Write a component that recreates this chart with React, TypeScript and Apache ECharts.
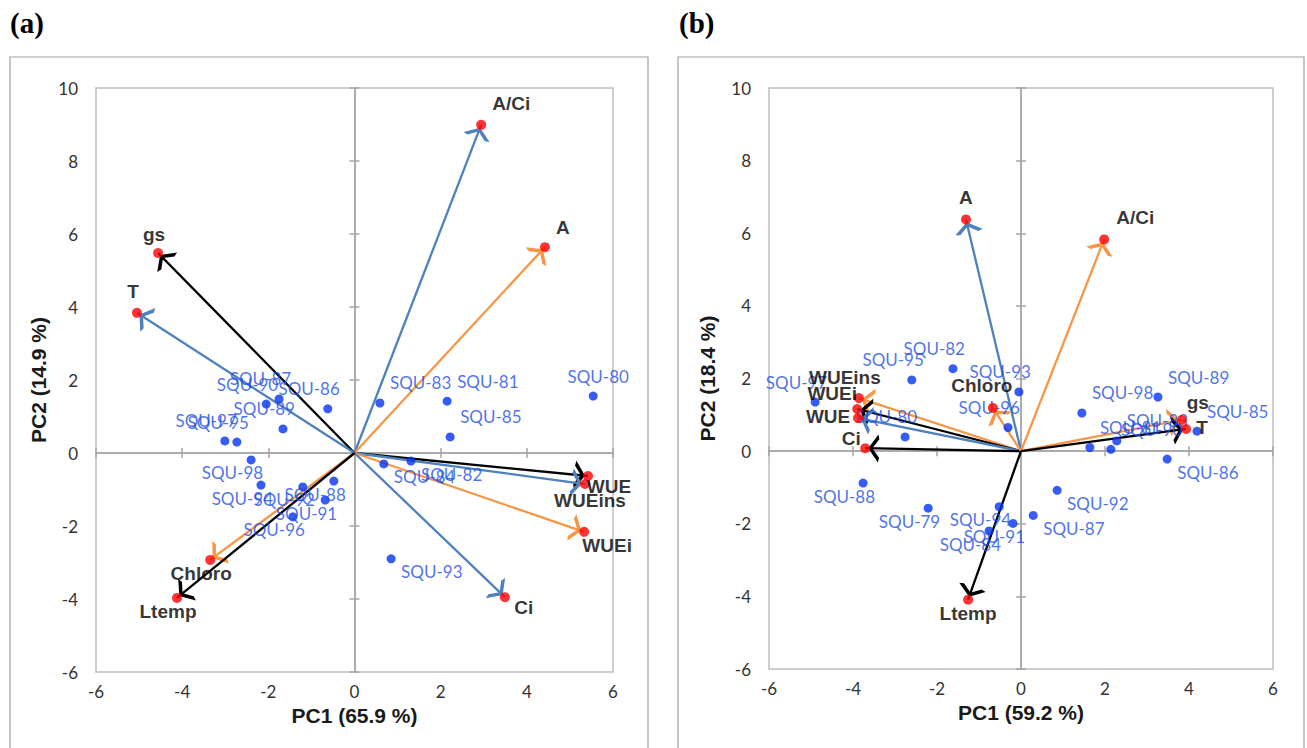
import React, { useEffect, useRef } from 'react';
import * as echarts from 'echarts';

// ---------- DATA ----------
// Panel (a)
const sampleNamesA = ['SQU-80', 'SQU-81', 'SQU-83', 'SQU-85', 'SQU-82', 'SQU-84', 'SQU-93', 'SQU-87', 'SQU-90', 'SQU-86', 'SQU-89', 'SQU-97', 'SQU-95', 'SQU-98', 'SQU-94', 'SQU-92', 'SQU-88', 'SQU-91', 'SQU-96'];
const samplePC1A = [5.54, 2.15, 0.59, 2.22, 1.31, 0.68, 0.85, -1.75, -2.05, -0.62, -1.66, -3.01, -2.73, -2.4, -2.17, -1.2, -0.48, -0.68, -1.43];
const samplePC2A = [1.56, 1.42, 1.37, 0.44, -0.22, -0.3, -2.9, 1.48, 1.34, 1.21, 0.66, 0.33, 0.3, -0.19, -0.88, -0.93, -0.77, -1.29, -1.75];
const varNamesA = ['A/Ci', 'A', 'gs', 'T', 'WUE', 'WUEins', 'WUEi', 'Ci', 'Chloro', 'Ltemp'];
const varPC1A = [2.94, 4.42, -4.56, -5.05, 5.42, 5.35, 5.33, 3.49, -3.35, -4.12];
const varPC2A = [8.99, 5.64, 5.48, 3.84, -0.63, -0.85, -2.16, -3.95, -2.93, -3.97];
const axisTitlesA = { x: 'PC1 (65.9 %)', y: 'PC2 (14.9 %)' };

// Panel (b)
const sampleNamesB = ['SQU-97', 'SQU-95', 'SQU-82', 'SQU-93', 'SQU-80', 'SQU-96', 'SQU-98', 'SQU-89', 'SQU-85', 'SQU-81', 'SQU-90', 'SQU-83', 'SQU-86', 'SQU-88', 'SQU-79', 'SQU-94', 'SQU-91', 'SQU-84', 'SQU-87', 'SQU-92'];
const samplePC1B = [-4.9, -2.6, -1.62, -0.05, -2.76, -0.31, 1.45, 3.26, 4.19, 1.64, 2.14, 2.28, 3.48, -3.76, -2.21, -0.52, -0.19, -0.76, 0.29, 0.86];
const samplePC2B = [1.35, 1.96, 2.27, 1.63, 0.39, 0.65, 1.05, 1.49, 0.55, 0.1, 0.05, 0.28, -0.22, -0.88, -1.57, -1.53, -1.99, -2.2, -1.77, -1.08];
const varNamesB = ['A', 'A/Ci', 'WUEins', 'WUEi', 'WUE', 'Ci', 'Chloro', 'Ltemp', 'gs', 'T'];
const varPC1B = [-1.31, 1.98, -3.86, -3.9, -3.88, -3.71, -0.67, -1.26, 3.83, 3.93];
const varPC2B = [6.38, 5.83, 1.46, 1.16, 0.91, 0.08, 1.19, -4.09, 0.86, 0.61];
const axisTitlesB = { x: 'PC1 (59.2 %)', y: 'PC2 (18.4 %)' };

const panelTitles = ['(a)', '(b)'];
const AXIS_MIN = -6;
const X_MAX = 6;
const Y_MAX = 10;
const TICK_STEP = 2;

// ---------- STYLE / LAYOUT ----------
const COLORS: Record<string, string> = { blue: '#4f81bd', orange: '#f79646', black: '#000000' };
const arrowColorA: Record<string, string> = {
  'A/Ci': 'blue', A: 'orange', gs: 'black', T: 'blue', WUE: 'black', WUEins: 'blue', WUEi: 'orange', Ci: 'blue', Chloro: 'orange', Ltemp: 'black',
};
const arrowColorB: Record<string, string> = {
  A: 'blue', 'A/Ci': 'orange', WUEins: 'orange', WUEi: 'black', WUE: 'blue', Ci: 'black', Chloro: 'orange', Ltemp: 'black', gs: 'orange', T: 'black',
};
const varLabelOffsetA: Record<string, number[]> = {
  'A/Ci': [30, -21], A: [18, -20], gs: [-4, -18], T: [-4, -21], WUE: [21, 11], WUEins: [5, 16], WUEi: [23, 14], Ci: [19, 10], Chloro: [-9, 14], Ltemp: [-9, 14],
};
const varLabelOffsetB: Record<string, number[]> = {
  A: [0, -22], 'A/Ci': [31, -22], WUEins: [-14, -21], WUEi: [-25, -16], WUE: [-30, -2], Ci: [-14, -10], Chloro: [-11, -22], Ltemp: [0, 14], gs: [16, -17], T: [16, -1],
};
const sampleLabelOverrideA: Record<string, any> = { 'SQU-80': { align: 'center', offset: [5, -20] } };
const sampleLabelOverrideB: Record<string, any> = {};

const grids = [
  { left: 96, top: 88, width: 517, height: 584, yNameGap: 47, frame: { x: 10, y: 57, w: 638 }, title: { x: 10 } },
  { left: 769, top: 88, width: 504, height: 581, yNameGap: 51, frame: { x: 678, y: 57, w: 626 }, title: { x: 679 } },
];

// open chevron arrow head; a tiny invisible sub-path extends the bounding box so the tip sits just before the end point
const ARROW_HEAD = 'path://M5,-17 L5.05,-17 L5,-16.95 Z M5,0 L10,10 L8.3,11 L5,4.2 L1.7,11 L0,10 Z';
const ARROW_SIZE = [10, 28];
const LABEL_FONT = 'Lato';
const BOLD_FONT = '"Liberation Sans", Arial, sans-serif';

function buildPanel(
  gi: number,
  sNames: string[], sX: number[], sY: number[],
  vNames: string[], vX: number[], vY: number[],
  arrowColor: Record<string, string>, vOffset: Record<string, number[]>,
  sOverride: Record<string, any>, titles: { x: string; y: string }
) {
  const base = gi * 3;
  const nameStyle = { fontFamily: BOLD_FONT, fontWeight: 'bold', fontSize: 21, color: '#1a1a1a' };
  const xAxes = [
    {
      gridIndex: gi, type: 'value', min: AXIS_MIN, max: X_MAX, interval: TICK_STEP, position: 'bottom',
      axisLine: { show: false, onZero: false }, axisTick: { show: false }, splitLine: { show: false },
      axisLabel: { fontFamily: LABEL_FONT, fontSize: 17, color: '#333', margin: 11 },
      name: titles.x, nameLocation: 'middle', nameGap: 30, nameTextStyle: nameStyle,
    },
    ...[true, false].map((inside) => ({
      gridIndex: gi, type: 'value', min: AXIS_MIN, max: X_MAX, interval: TICK_STEP,
      axisLine: { show: true, onZero: true, onZeroAxisIndex: base, lineStyle: { color: '#a6a6a6', width: 1.5 } },
      axisTick: { show: true, inside, length: 5, lineStyle: { color: '#a6a6a6', width: 1.5 } },
      axisLabel: { show: false }, splitLine: { show: false },
    })),
  ];
  const yAxes = [
    {
      gridIndex: gi, type: 'value', min: AXIS_MIN, max: Y_MAX, interval: TICK_STEP, position: 'left',
      axisLine: { show: false, onZero: false }, axisTick: { show: false }, splitLine: { show: false },
      axisLabel: { fontFamily: LABEL_FONT, fontSize: 17, color: '#333', margin: 18 },
      name: titles.y, nameLocation: 'middle', nameGap: grids[gi].yNameGap, nameTextStyle: nameStyle,
    },
    ...[true, false].map((inside) => ({
      gridIndex: gi, type: 'value', min: AXIS_MIN, max: Y_MAX, interval: TICK_STEP,
      axisLine: { show: true, onZero: true, onZeroAxisIndex: base, lineStyle: { color: '#a6a6a6', width: 1.5 } },
      axisTick: { show: true, inside, length: 5, lineStyle: { color: '#a6a6a6', width: 1.5 } },
      axisLabel: { show: false }, splitLine: { show: false },
    })),
  ];

  const arrowSeries = vNames.map((n, i) => ({
    type: 'lines',
    coordinateSystem: 'cartesian2d',
    xAxisIndex: base, yAxisIndex: base,
    symbol: ['none', ARROW_HEAD],
    symbolSize: ARROW_SIZE,
    z: 2,
    silent: true,
    lineStyle: { color: COLORS[arrowColor[n]], width: 2.3, opacity: 1, curveness: 0 },
    data: [{ coords: [[0, 0], [vX[i], vY[i]]] }],
  }));

  const sampleSeries = {
    type: 'scatter',
    xAxisIndex: base, yAxisIndex: base,
    z: 3,
    symbolSize: 9,
    itemStyle: { color: '#0533f0' },
    label: {
      show: true, position: 'inside', formatter: '{b}',
      fontFamily: LABEL_FONT, fontSize: 17, color: '#1d4fe2',
    },
    data: sNames.map((n, i) => {
      const right = sX[i] > 0;
      const up = sY[i] > 0;
      const lbl = sOverride[n] || { align: right ? 'left' : 'right', offset: [right ? 10 : 12, up ? -20 : 13] };
      return { name: n, value: [sX[i], sY[i]], label: lbl };
    }),
  };

  const varSeries = {
    type: 'scatter',
    xAxisIndex: base, yAxisIndex: base,
    z: 4,
    symbolSize: 10,
    itemStyle: { color: '#ff0000' },
    label: {
      show: true, position: 'inside', formatter: '{b}',
      fontFamily: BOLD_FONT, fontWeight: 'bold', fontSize: 19, color: '#000',
    },
    data: vNames.map((n, i) => ({ name: n, value: [vX[i], vY[i]], label: { offset: vOffset[n] } })),
  };

  return { xAxes, yAxes, series: [...arrowSeries, sampleSeries, varSeries] };
}

export default function App() {
  const ref = useRef<HTMLDivElement>(null);
  useEffect(() => {
    if (!ref.current) return;
    const chart = echarts.init(ref.current, undefined, { renderer: 'svg' });
    const pa = buildPanel(0, sampleNamesA, samplePC1A, samplePC2A, varNamesA, varPC1A, varPC2A, arrowColorA, varLabelOffsetA, sampleLabelOverrideA, axisTitlesA);
    const pb = buildPanel(1, sampleNamesB, samplePC1B, samplePC2B, varNamesB, varPC1B, varPC2B, arrowColorB, varLabelOffsetB, sampleLabelOverrideB, axisTitlesB);
    const graphics: any[] = [];
    grids.forEach((g, i) => {
      graphics.push({
        type: 'rect', silent: true, z: -1,
        shape: { x: g.frame.x, y: g.frame.y, width: g.frame.w, height: 720 },
        style: { fill: 'none', stroke: '#a0a0a0', lineWidth: 1.2 },
      });
      graphics.push({
        type: 'text', left: g.title.x, top: 8,
        style: { text: panelTitles[i], font: 'bold 29px "Liberation Serif", "Times New Roman", serif', fill: '#000' },
      });
    });
    chart.setOption({
      animation: false,
      backgroundColor: '#ffffff',
      grid: grids.map((g) => ({
        left: g.left, top: g.top, width: g.width, height: g.height,
        show: true, borderColor: '#bfbfbf', borderWidth: 1.5, backgroundColor: 'transparent',
      })),
      xAxis: [...pa.xAxes, ...pb.xAxes],
      yAxis: [...pa.yAxes, ...pb.yAxes],
      series: [...pa.series, ...pb.series],
      graphic: graphics,
    });
    return () => chart.dispose();
  }, []);
  return <div ref={ref} style={{ position: 'absolute', left: 0, top: 0, width: 1307, height: 748, background: '#fff' }} />;
}
